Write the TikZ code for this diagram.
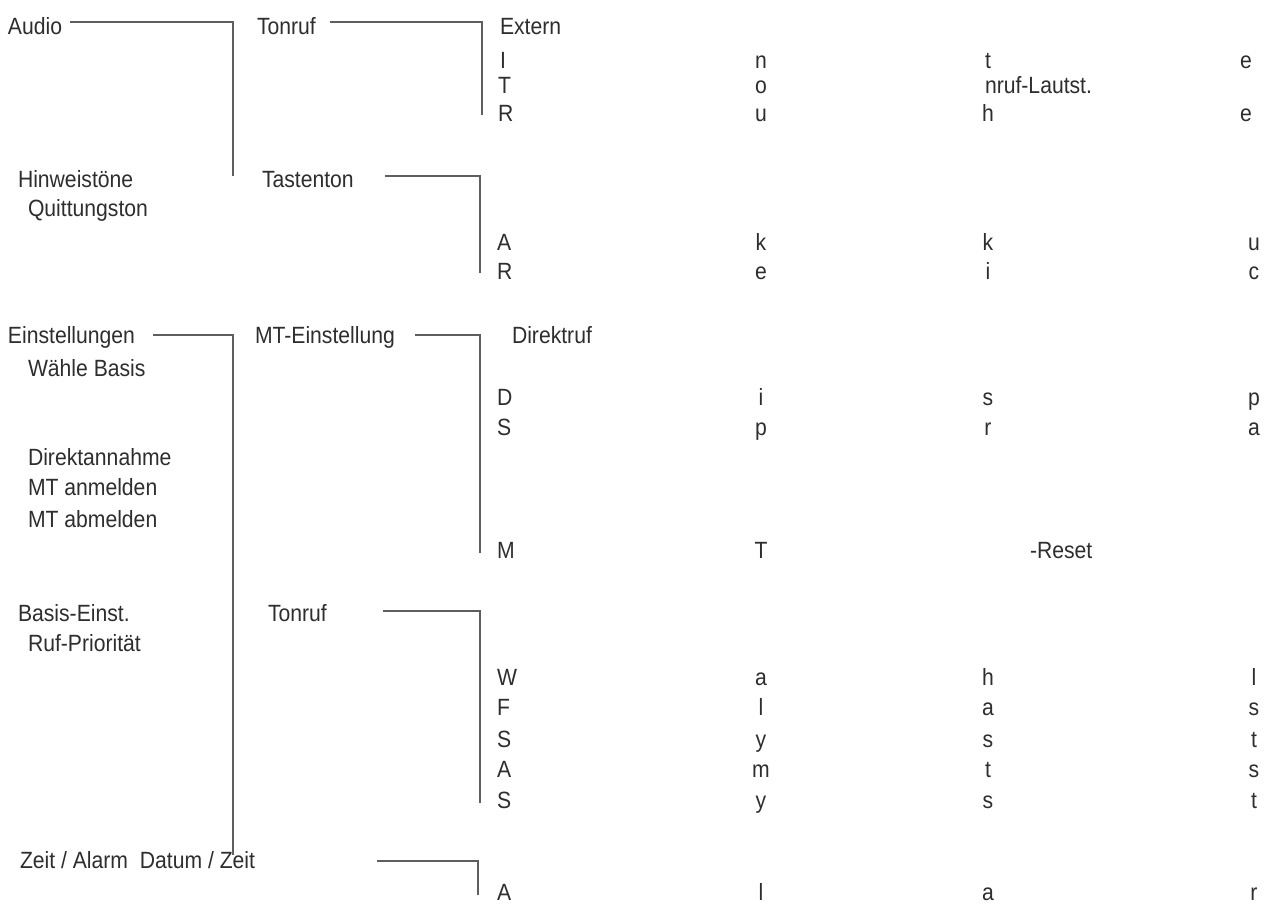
\documentclass[tikz,border=0pt]{standalone}
\usepackage{fontspec}
\setmainfont{Liberation Sans}[FakeStretch=0.9]
\definecolor{txtc}{HTML}{2E2E2E}
\definecolor{linec}{HTML}{5E5E5E}
\tikzset{
  lbl/.style={inner sep=0pt, outer sep=0pt, anchor=base west, text=txtc,
    font=\fontsize{23.5}{28}\selectfont},
  ltr/.style={lbl, anchor=base},
  conn/.style={draw=linec, line width=2pt, line cap=butt, line join=miter}
}
% \lrow{name}{baseline y}{c1}{c2}{c3}{c4}
\newcommand{\lrow}[6]{%
  \node[lbl] (#1-1) at (497,#2) {#3};
  \node[ltr] (#1-2) at (761,#2) {#4};
  \node[ltr] (#1-3) at (988,#2) {#5};
  \node[ltr] (#1-4) at (1254,#2) {#6};
}
\begin{document}
\begin{tikzpicture}[x=1pt,y=-1pt]
\useasboundingbox (0,0) rectangle (1276,906);
\fill[white] (0,0) rectangle (1276,906);

% level 1
\node[lbl] (audio) at (8,34.5) {Audio};
\node[lbl] (hinw) at (18,187.5) {Hinweistöne};
\node[lbl] (quitt) at (28,216.5) {Quittungston};
\node[lbl] (einst) at (8,343.5) {Einstellungen};
\node[lbl] (waehle) at (28,376.5) {Wähle Basis};
\node[lbl] (dann) at (28,465.5) {Direktannahme};
\node[lbl] (anm) at (28,495.5) {MT anmelden};
\node[lbl] (abm) at (28,527.5) {MT abmelden};
\node[lbl] (basis) at (18,621.5) {Basis-Einst.};
\node[lbl] (rufp) at (28,651.5) {Ruf-Priorität};
\node[lbl] (zeit) at (20,868.5) {Zeit / Alarm\ \ Datum / Zeit};

% level 2
\node[lbl] (tonruf1) at (257,34.5) {Tonruf};
\node[lbl] (tasten) at (262,187.5) {Tastenton};
\node[lbl] (mteinst) at (255,343.5) {MT-Einstellung};
\node[lbl] (tonruf2) at (268,621.5) {Tonruf};

% level 3
\node[lbl] (extern) at (500,34.5) {Extern};
\node[lbl] (r1-1) at (500,68.5) {I};
\node[ltr] (r1-2) at (761,68.5) {n};
\node[ltr] (r1-3) at (988,68.5) {t};
\node[ltr] (r1-4) at (1246,68.5) {e};
\node[lbl] (r2-1) at (498,93.5) {T};
\node[ltr] (r2-2) at (761,93.5) {o};
\node[lbl] (r2-3) at (985,93.5) {nruf-Lautst.};
\node[lbl] (r3-1) at (498,121.5) {R};
\node[ltr] (r3-2) at (761,121.5) {u};
\node[ltr] (r3-3) at (988,121.5) {h};
\node[ltr] (r3-4) at (1246,121.5) {e};

\lrow{ra}{250.5}{A}{k}{k}{u}
\lrow{rb}{279.5}{R}{e}{i}{c}

\node[lbl] (direktruf) at (512,343.5) {Direktruf};
\lrow{rd}{405.5}{D}{i}{s}{p}
\lrow{rs}{435.5}{S}{p}{r}{a}
\node[lbl] (rm-1) at (497,558.5) {M};
\node[ltr] (rm-2) at (761,558.5) {T};
\node[lbl] (rm-3) at (1030,558.5) {-Reset};

\lrow{rw}{685.5}{W}{a}{h}{l}
\lrow{rf}{715.5}{F}{l}{a}{s}
\lrow{rs1}{747.5}{S}{y}{s}{t}
\lrow{ram}{777.5}{A}{m}{t}{s}
\lrow{rs2}{808.5}{S}{y}{s}{t}
\lrow{ral}{900.5}{A}{l}{a}{r}

% connector corners
\coordinate (c1a) at (70,22);  \coordinate (c1b) at (233,22);  \coordinate (c1c) at (233,176);
\coordinate (c2a) at (330,22); \coordinate (c2b) at (482,22);  \coordinate (c2c) at (482,115);
\coordinate (c3a) at (385,176); \coordinate (c3b) at (480,176); \coordinate (c3c) at (480,273);
\coordinate (c4a) at (153,335); \coordinate (c4b) at (233,335); \coordinate (c4c) at (233,855);
\coordinate (c5a) at (415,335); \coordinate (c5b) at (480,335); \coordinate (c5c) at (480,553);
\coordinate (c6a) at (383,611); \coordinate (c6b) at (480,611); \coordinate (c6c) at (480,803);
\coordinate (c7a) at (377,861); \coordinate (c7b) at (478,861); \coordinate (c7c) at (478,895);

\draw[conn] (c1a) -- (c1b) -- (c1c);
\draw[conn] (c2a) -- (c2b) -- (c2c);
\draw[conn] (c3a) -- (c3b) -- (c3c);
\draw[conn] (c4a) -- (c4b) -- (c4c);
\draw[conn] (c5a) -- (c5b) -- (c5c);
\draw[conn] (c6a) -- (c6b) -- (c6c);
\draw[conn] (c7a) -- (c7b) -- (c7c);
\end{tikzpicture}
\end{document}
